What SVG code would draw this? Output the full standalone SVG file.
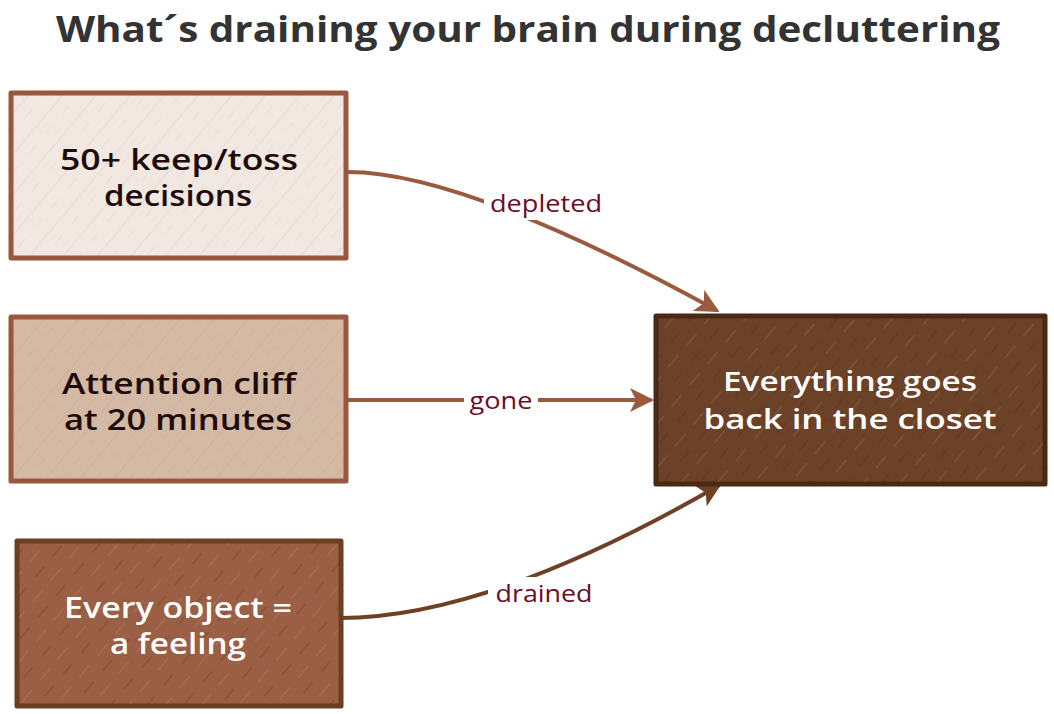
<svg xmlns="http://www.w3.org/2000/svg" width="1054" height="714" viewBox="0 0 1054 714">
<style>
  .title{font-family:"Open Sans","Liberation Sans",sans-serif;font-size:35px;font-weight:700;fill:#333333}
  .nt{font-family:"Open Sans","Liberation Sans",sans-serif;font-size:29px;font-weight:600;text-anchor:middle}
  .nt2{font-size:27px}
  .dark{fill:#1e0c0c}
  .light{fill:#ffffff}
  .lbl{font-family:"Open Sans","Liberation Sans",sans-serif;font-size:23px;fill:#6e0b25;text-anchor:middle}
  .edge{fill:none;stroke-width:4;stroke-linecap:round}
  .box{stroke-width:5;stroke-linejoin:round}
</style>
<defs>
  <pattern id="hatchL" width="26" height="26" patternUnits="userSpaceOnUse" patternTransform="rotate(-50)">
    <line x1="0" y1="5" x2="26" y2="5" stroke="#8a6a5a" stroke-opacity="0.12" stroke-width="1"/>
    <line x1="4" y1="17" x2="16" y2="17" stroke="#8a6a5a" stroke-opacity="0.1" stroke-width="1"/>
  </pattern>
  <pattern id="hatchD" width="28" height="28" patternUnits="userSpaceOnUse" patternTransform="rotate(-50)">
    <line x1="0" y1="6" x2="14" y2="6" stroke="#3a1a0a" stroke-opacity="0.3" stroke-width="1"/>
    <line x1="8" y1="20" x2="24" y2="20" stroke="#e0c0a8" stroke-opacity="0.22" stroke-width="1"/>
  </pattern>
  <marker id="arrA" viewBox="0 0 12 12" refX="10" refY="6" markerWidth="6" markerHeight="6" orient="auto" markerUnits="strokeWidth">
    <path d="M0,0 L12,6 L0,12 L3,6 Z" fill="#9a5a3e"/>
  </marker>
  <marker id="arrB" viewBox="0 0 12 12" refX="10" refY="6" markerWidth="6" markerHeight="6" orient="auto" markerUnits="strokeWidth">
    <path d="M0,0 L12,6 L0,12 L3,6 Z" fill="#6e4127"/>
  </marker>
</defs>
<rect width="1054" height="714" fill="#ffffff"/>
<text class="title" x="528" y="42" text-anchor="middle" textLength="944" lengthAdjust="spacingAndGlyphs">What´s draining your brain during decluttering</text>

<g id="connectors">
  <path class="edge" d="M348,172 Q464,172 716,310" stroke="#9a5a3e" marker-end="url(#arrA)"/>
  <path class="edge" d="M348,400 L650,400" stroke="#9a5a3e" marker-end="url(#arrA)"/>
  <path class="edge" d="M340,618 Q489,618 718,486" stroke="#6e4127" marker-end="url(#arrB)"/>
  <rect x="484" y="186" width="124" height="34" fill="#ffffff"/>
  <text class="lbl" x="546" y="212" textLength="112" lengthAdjust="spacingAndGlyphs">depleted</text>
  <rect x="464" y="385" width="74" height="32" fill="#ffffff"/>
  <text class="lbl" x="501" y="409" textLength="63" lengthAdjust="spacingAndGlyphs">gone</text>
  <rect x="488" y="577" width="112" height="34" fill="#ffffff"/>
  <text class="lbl" x="544" y="602" textLength="97" lengthAdjust="spacingAndGlyphs">drained</text>
</g>

<g id="node-decisions">
  <rect class="box" x="11" y="93" width="335" height="165" fill="#f1e8e2" stroke="#99583d"/>
  <rect x="13" y="95" width="331" height="161" fill="url(#hatchL)"/>
  <text class="nt dark" x="179" y="170" textLength="238" lengthAdjust="spacingAndGlyphs">50+ keep/toss</text>
  <text class="nt dark" x="178" y="206" textLength="148" lengthAdjust="spacingAndGlyphs">decisions</text>
</g>

<g id="node-attention">
  <rect class="box" x="11" y="317" width="335" height="164" fill="#d4b9a4" stroke="#99583d"/>
  <rect x="13" y="319" width="331" height="160" fill="url(#hatchL)"/>
  <text class="nt dark" x="179" y="394" textLength="234" lengthAdjust="spacingAndGlyphs">Attention cliff</text>
  <text class="nt dark" x="178" y="430" textLength="228" lengthAdjust="spacingAndGlyphs">at 20 minutes</text>
</g>

<g id="node-feeling">
  <rect class="box" x="17" y="541" width="324" height="165" fill="#9a5f44" stroke="#6b3f22"/>
  <rect x="19" y="543" width="320" height="161" fill="url(#hatchD)"/>
  <text class="nt light" x="178" y="618" textLength="228" lengthAdjust="spacingAndGlyphs">Every object =</text>
  <text class="nt light" x="178" y="654" textLength="136" lengthAdjust="spacingAndGlyphs">a feeling</text>
</g>

<g id="node-closet">
  <rect class="box" x="656" y="316" width="389" height="168" fill="#6b4128" stroke="#4a2812"/>
  <rect x="658" y="318" width="385" height="164" fill="url(#hatchD)"/>
  <text class="nt nt2 light" x="850" y="391" textLength="254" lengthAdjust="spacingAndGlyphs">Everything goes</text>
  <text class="nt nt2 light" x="850" y="429" textLength="293" lengthAdjust="spacingAndGlyphs">back in the closet</text>
</g>
</svg>
